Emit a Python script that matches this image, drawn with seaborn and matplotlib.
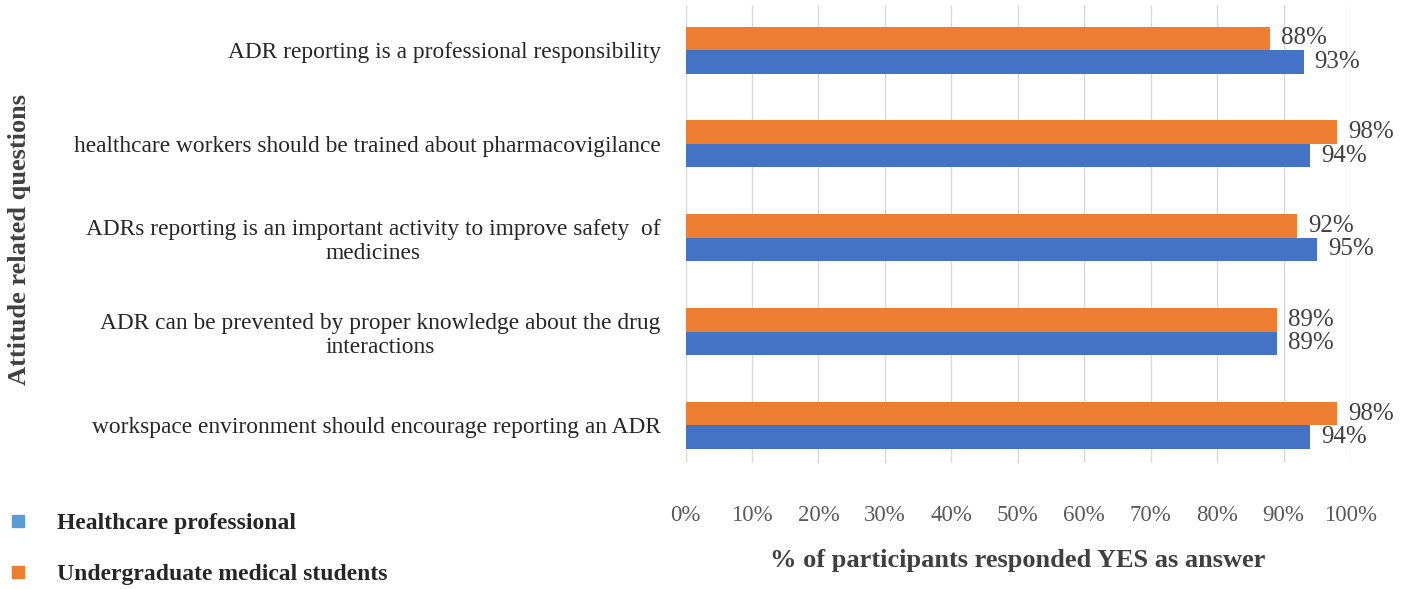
import pandas as pd
import matplotlib.pyplot as plt
import seaborn as sns
from matplotlib.lines import Line2D

# data
questions = [
    "ADR reporting is a professional responsibility",
    "healthcare workers should be trained about pharmacovigilance",
    "ADRs reporting is an important activity to improve safety  of\nmedicines",
    "ADR can be prevented by proper knowledge about the drug\ninteractions",
    "workspace environment should encourage reporting an ADR",
]
students = [88, 98, 92, 89, 98]
professionals = [93, 94, 95, 89, 94]
groups = ["Undergraduate medical students", "Healthcare professional"]

df = pd.DataFrame({
    "question": questions * 2,
    "value": students + professionals,
    "group": [groups[0]] * 5 + [groups[1]] * 5,
})

sns.set_theme(style="white")
plt.rcParams["font.family"] = ["Liberation Serif", "DejaVu Serif"]

fig = plt.figure(figsize=(14.02, 5.89), dpi=100)
ax = fig.add_axes([0.489, 0.214, 0.474, 0.7775])

sns.barplot(
    data=df, x="value", y="question", hue="group", hue_order=groups,
    palette={groups[0]: "#ED7D31", groups[1]: "#4472C4"},
    orient="h", width=0.5, ax=ax, legend=False, saturation=1, linewidth=0,
)

for cont in ax.containers:
    labs = ax.bar_label(cont, labels=[f"{v:.0f}%" for v in cont.datavalues],
                        padding=8, fontsize=18, color="#404040")
    for t in labs:
        t.set_y(t.get_position()[1] + 0.03)

ax.set_xlim(0, 100)
ax.set_ylim(4.40, -0.48)
ax.set_xticks(range(0, 101, 10))
ax.set_xticklabels([f"{t}%" for t in range(0, 101, 10)], fontsize=16.5, color="#595959")
ax.tick_params(axis="x", length=0, pad=30)
ax.tick_params(axis="y", length=0, pad=18)
for lab in ax.get_yticklabels():
    lab.set_fontsize(16.8)
    lab.set_multialignment("center")
    lab.set_color("#262626")

ax.grid(axis="x", color="#D9D9D9", linewidth=1)
ax.set_axisbelow(True)
for s in ax.spines.values():
    s.set_visible(False)

ax.set_xlabel("% of participants responded YES as answer", fontsize=19,
              fontweight="bold", color="#404040", labelpad=17)
ax.set_ylabel("")
fig.text(0.014, 0.594, "Attitude related questions", rotation=90, fontsize=19,
         fontweight="bold", color="#404040", ha="center", va="center")

handles = [
    Line2D([], [], marker="s", linestyle="", color="#5B9BD5", markersize=9),
    Line2D([], [], marker="s", linestyle="", color="#ED7D31", markersize=9),
]
fig.legend(handles, ["Healthcare professional", "Undergraduate medical students"],
           loc="lower left", bbox_to_anchor=(-0.0126, -0.03), frameon=False,
           prop={"weight": "bold", "size": 17}, labelspacing=1.25,
           handletextpad=1.05, handlelength=1.2)

plt.savefig("out.png", dpi=100)
plt.close()
